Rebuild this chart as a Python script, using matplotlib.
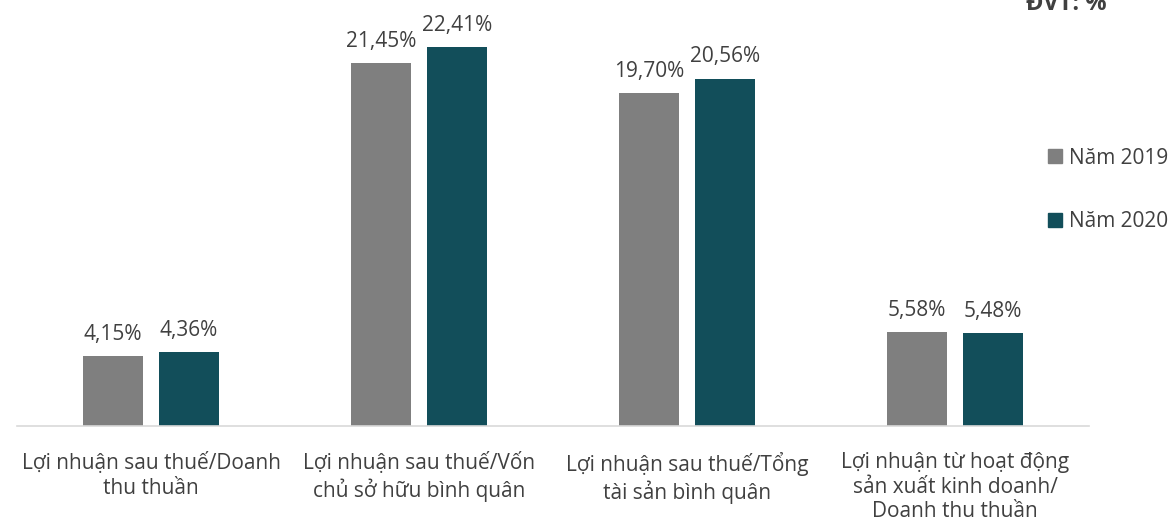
import matplotlib
matplotlib.use("Agg")
import matplotlib.pyplot as plt
import numpy as np
from matplotlib.patches import Patch

plt.rcParams["font.family"] = ["Open Sans", "DejaVu Sans"]

categories = [
    "Lợi nhuận sau thuế/Doanh\nthu thuần",
    "Lợi nhuận sau thuế/Vốn\nchủ sở hữu bình quân",
    "Lợi nhuận sau thuế/Tổng\ntài sản bình quân",
    "Lợi nhuận từ hoạt động\nsản xuất kinh doanh/\nDoanh thu thuần",
]
series_names = ["Năm 2019", "Năm 2020"]
values_2019 = [4.15, 21.45, 19.70, 5.58]
values_2020 = [4.36, 22.41, 20.56, 5.48]

GRAY = "#7f7f7f"
TEAL = "#124e5a"
TEXT = "#404040"

fig = plt.figure(figsize=(11.76, 5.26), dpi=100)
ax = fig.add_axes([17 / 1176, 100 / 526, 1072 / 1176, 422.5 / 526])

x = np.arange(len(categories))
w = 0.224
off = 0.1418
b1 = ax.bar(x - off, values_2019, width=w, color=GRAY, label=series_names[0])
b2 = ax.bar(x + off, values_2020, width=w, color=TEAL, label=series_names[1])

fmt = lambda v: f"{v:.2f}%".replace(".", ",")
for bars, vals in ((b1, values_2019), (b2, values_2020)):
    ax.bar_label(bars, labels=[fmt(v) for v in vals], padding=8,
                 fontsize=15, color=TEXT)

ax.set_xlim(-0.5, 3.5)
ax.set_ylim(0, 25)
ax.set_yticks([])
ax.set_xticks(x)
ax.set_xticklabels(categories, fontsize=15, color=TEXT, linespacing=1.2)
ax.tick_params(axis="x", length=0, pad=19)
for s in ("top", "right", "left"):
    ax.spines[s].set_visible(False)
ax.spines["bottom"].set_color("#d9d9d9")
ax.spines["bottom"].set_linewidth(1.2)

handles = [Patch(color=GRAY, label=series_names[0]), Patch(color=TEAL, label=series_names[1])]
fig.legend(handles=handles, loc="center left", bbox_to_anchor=(1040 / 1176, 1 - 190 / 526),
           frameon=False, fontsize=15, labelcolor=TEXT, handlelength=0.65, handleheight=0.65,
           handletextpad=0.35, labelspacing=2.05, borderaxespad=0)

fig.text(1066 / 1176, 1 - 4 / 526, "ĐVT: %", ha="center", va="center",
         fontsize=17, fontweight="bold", color=TEXT)

fig.savefig("out.png", dpi=100)
